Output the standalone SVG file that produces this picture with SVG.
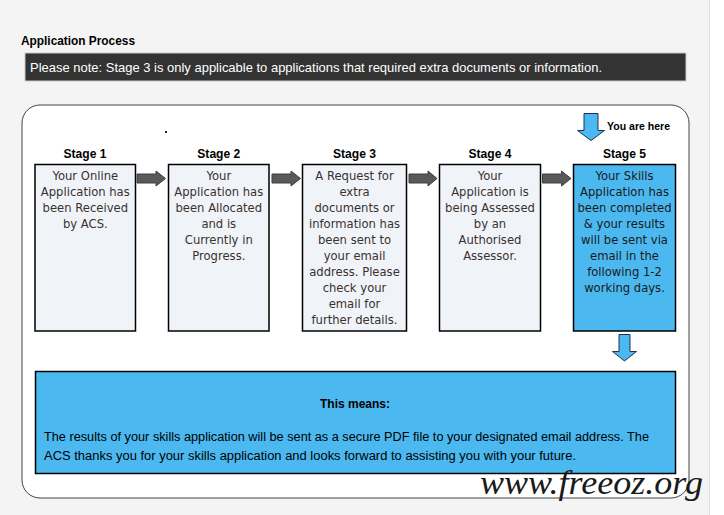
<svg xmlns="http://www.w3.org/2000/svg" width="724" height="515" viewBox="0 0 724 515">
<style>
.bg{fill:#f4f4f4}
.lbl{font-family:"Liberation Sans",Arial,sans-serif;font-weight:bold;fill:#000}
.box{fill:#f0f4f8;stroke:#000;stroke-width:1.5}
.boxon{fill:#4bb9f0;stroke:#000;stroke-width:1.5}
.bt{font-family:"DejaVu Sans",Verdana,sans-serif;font-size:11.6px;fill:#3a3030;text-anchor:middle}
.bton{fill:#1a1a1a}
.stage{font-family:"Liberation Sans",Arial,sans-serif;font-weight:bold;font-size:13px;text-anchor:middle;fill:#000}
.garrow{fill:#595959;stroke:#3f3f3f;stroke-width:1}
.barrow{fill:#4bb9f0;stroke:#1f3050;stroke-width:1}
.body{font-family:"Liberation Sans",Arial,sans-serif;font-size:12.5px;fill:#000}
</style>
<rect class="bg" x="0" y="0" width="709" height="515"/>
<rect x="709" y="0" width="15" height="515" fill="#ffffff"/>
<line x1="709.5" y1="0" x2="709.5" y2="515" stroke="#dedede" stroke-width="1"/>
<g id="title">
<text class="lbl" x="21" y="45" font-size="12.5" textLength="114" lengthAdjust="spacingAndGlyphs">Application Process</text>
</g>
<g id="note">
<rect x="25" y="53" width="661" height="28" fill="#333333" stroke="#c8c8c8" stroke-width="1"/>
<text x="30" y="72" font-family="Liberation Sans,Arial,sans-serif" font-size="13" fill="#ffffff" textLength="572" lengthAdjust="spacingAndGlyphs">Please note: Stage 3 is only applicable to applications that required extra documents or information.</text>
</g>
<g id="panel">
<rect x="22" y="105" width="667" height="393" rx="18" ry="18" fill="#ffffff" stroke="#444444" stroke-width="1"/>
<rect x="165" y="131" width="2" height="2" fill="#222"/>
</g>
<g id="stage1">
<text class="stage" x="85" y="158" textLength="43" lengthAdjust="spacingAndGlyphs">Stage 1</text>
<rect class="box" x="35" y="164.5" width="100.5" height="166.5"/>
<text class="bt"><tspan x="85.3" y="180">Your Online</tspan><tspan x="85.3" y="196">Application has</tspan><tspan x="85.3" y="212">been Received</tspan><tspan x="85.3" y="228">by ACS.</tspan></text>
</g>
<g id="stage2">
<text class="stage" x="218.8" y="158" textLength="43" lengthAdjust="spacingAndGlyphs">Stage 2</text>
<rect class="box" x="168.5" y="164.5" width="100.5" height="166.5"/>
<text class="bt"><tspan x="218.8" y="180">Your</tspan><tspan x="218.8" y="196">Application has</tspan><tspan x="218.8" y="212">been Allocated</tspan><tspan x="218.8" y="228">and is</tspan><tspan x="218.8" y="244">Currently in</tspan><tspan x="218.8" y="260">Progress.</tspan></text>
</g>
<g id="stage3">
<text class="stage" x="354.5" y="158" textLength="43" lengthAdjust="spacingAndGlyphs">Stage 3</text>
<rect class="box" x="302.5" y="164.5" width="104" height="166.5"/>
<text class="bt"><tspan x="354.5" y="180">A Request for</tspan><tspan x="354.5" y="196">extra</tspan><tspan x="354.5" y="212">documents or</tspan><tspan x="354.5" y="228">information has</tspan><tspan x="354.5" y="244">been sent to</tspan><tspan x="354.5" y="260">your email</tspan><tspan x="354.5" y="276">address. Please</tspan><tspan x="354.5" y="292">check your</tspan><tspan x="354.5" y="308">email for</tspan><tspan x="354.5" y="324">further details.</tspan></text>
</g>
<g id="stage4">
<text class="stage" x="490" y="158" textLength="43" lengthAdjust="spacingAndGlyphs">Stage 4</text>
<rect class="box" x="439.5" y="164.5" width="101" height="166.5"/>
<text class="bt"><tspan x="490" y="180">Your</tspan><tspan x="490" y="196">Application is</tspan><tspan x="490" y="212">being Assessed</tspan><tspan x="490" y="228">by an</tspan><tspan x="490" y="244">Authorised</tspan><tspan x="490" y="260">Assessor.</tspan></text>
</g>
<g id="stage5">
<text class="stage" x="624.5" y="158" textLength="43" lengthAdjust="spacingAndGlyphs">Stage 5</text>
<rect class="boxon" x="573.5" y="164.5" width="102" height="166.5"/>
<text class="bt bton"><tspan x="624.5" y="180">Your Skills</tspan><tspan x="624.5" y="196">Application has</tspan><tspan x="624.5" y="212">been completed</tspan><tspan x="624.5" y="228">&amp; your results</tspan><tspan x="624.5" y="244">will be sent via</tspan><tspan x="624.5" y="260">email in the</tspan><tspan x="624.5" y="276">following 1-2</tspan><tspan x="624.5" y="292">working days.</tspan></text>
</g>
<g id="you-are-here">
<path class="barrow" d="M584,113.5 H598 V130.5 H604.5 L591,140.5 L577.5,130.5 H584 Z"/>
<text class="lbl" x="607" y="130" font-size="11" textLength="63" lengthAdjust="spacingAndGlyphs">You are here</text>
</g>
<g id="result">
<rect x="35.5" y="371.5" width="640" height="102" fill="#4bb9f0" stroke="#000" stroke-width="1.5"/>
<text class="lbl" x="355" y="408" font-size="13" text-anchor="middle" textLength="70" lengthAdjust="spacingAndGlyphs">This means:</text>
<text class="body" x="44" y="441" textLength="605" lengthAdjust="spacingAndGlyphs">The results of your skills application will be sent as a secure PDF file to your designated email address. The</text>
<text class="body" x="44" y="460" textLength="532" lengthAdjust="spacingAndGlyphs">ACS thanks you for your skills application and looks forward to assisting you with your future.</text>
</g>
<g id="connectors">
<path class="garrow" d="M137,174 H156 V171 L165.5,178.5 L156,186 V183 H137 Z"/>
<path class="garrow" d="M272,174 H291 V171 L300.5,178.5 L291,186 V183 H272 Z"/>
<path class="garrow" d="M409,174 H428 V171 L437,178.5 L428,186 V183 H409 Z"/>
<path class="garrow" d="M542.5,174 H561.5 V171 L571,178.5 L561.5,186 V183 H542.5 Z"/>
<path class="barrow" d="M619,334.5 H630 V351.5 H636.5 L624.5,361 L612.5,351.5 H619 Z"/>
</g>
<g id="watermark">
<text x="480" y="494" font-family="Liberation Serif,Times New Roman,serif" font-style="italic" font-size="33" fill="#1a1a1a" textLength="223" lengthAdjust="spacingAndGlyphs">www.freeoz.org</text>
</g>
</svg>
